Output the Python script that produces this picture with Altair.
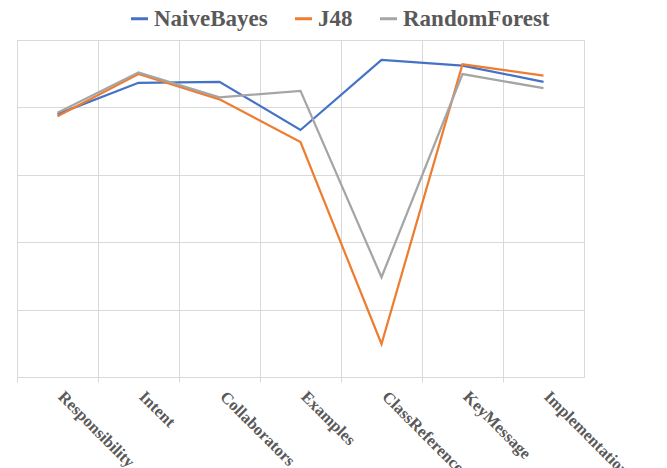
import altair as alt
import pandas as pd

categories = ["Responsibility", "Intent", "Collaborators", "Examples",
              "ClassReference", "KeyMessage", "Implementation"]
series_names = ["NaiveBayes", "J48", "RandomForest"]
naive_bayes = [78.0, 87.3, 87.6, 73.3, 94.1, 92.4, 87.6]
j48 = [77.4, 89.9, 82.4, 69.7, 9.8, 92.8, 89.4]
random_forest = [78.4, 90.4, 83.0, 84.9, 29.6, 89.9, 85.7]
colors = ["#4472C4", "#ED7D31", "#A5A5A5"]

rows = []
for name, vals in zip(series_names, [naive_bayes, j48, random_forest]):
    for c, v in zip(categories, vals):
        rows.append({"category": c, "series": name, "value": v})
df = pd.DataFrame(rows)

font = "Liberation Serif"
txt = "#595959"
grid = "#D9D9D9"

chart = alt.Chart(df).mark_line(strokeWidth=2.25).encode(
    x=alt.X("category:N", sort=categories, bandPosition=0.5,
            scale=alt.Scale(type="band", paddingInner=0, paddingOuter=0),
            axis=alt.Axis(title=None, bandPosition=0, grid=True, gridColor=grid,
                          domainColor=grid, tickColor=grid, tickSize=5,
                          labelAngle=45, labelAlign="left", labelBaseline="top",
                          labelOffset=9, labelPadding=6, labelFont=font,
                          labelFontSize=16.5, labelFontWeight="bold", labelColor=txt,
                          labelOverlap=False, labelBound=False, labelFlush=False)),
    y=alt.Y("value:Q", scale=alt.Scale(domain=[0, 100], nice=False),
            axis=alt.Axis(title=None, labels=False, ticks=False, domain=False,
                          values=[0, 20, 40, 60, 80, 100], gridColor=grid)),
    color=alt.Color("series:N", sort=series_names,
                    scale=alt.Scale(domain=series_names, range=colors),
                    legend=alt.Legend(title=None, orient="none", direction="horizontal",
                                      legendX=111, legendY=-33,
                                      symbolType="stroke", symbolSize=289,
                                      symbolStrokeWidth=3, labelOffset=3,
                                      columnPadding=21, labelFont=font,
                                      labelFontSize=23, labelFontWeight="bold",
                                      labelColor=txt, labelBaseline="middle")),
    order=alt.Order("series:N"),
).properties(
    width=567, height=337,
    autosize=alt.AutoSizeParams(type="none"),
    padding={"left": 9, "top": 32, "right": 75, "bottom": 91},
).configure_view(stroke=grid)

chart.save("out.html", embed_options={"renderer": "svg", "actions": False})
